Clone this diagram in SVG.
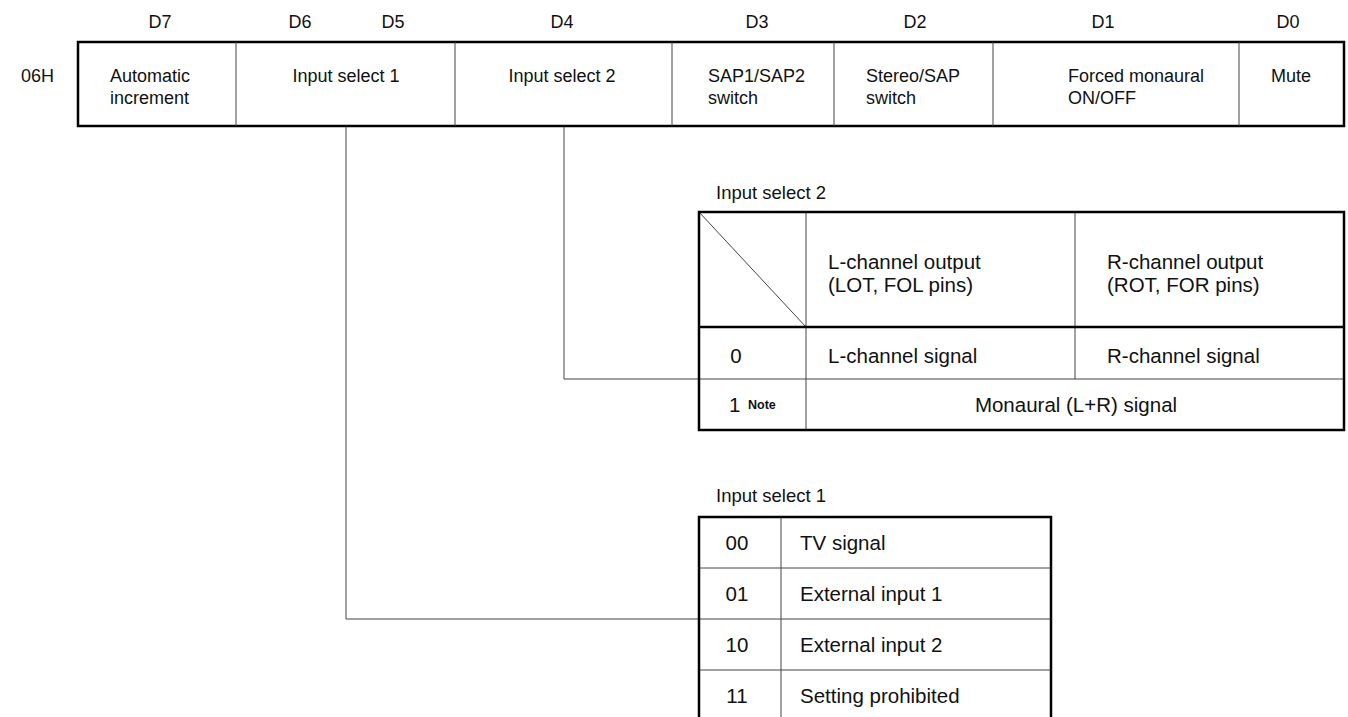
<svg xmlns="http://www.w3.org/2000/svg" width="1348" height="717" viewBox="0 0 1348 717">
<style>
text{font-family:"Liberation Sans",Arial,sans-serif;font-size:18px;fill:#111}
.m{text-anchor:middle}
.lg{font-size:20.5px}
.ttl{font-size:18.5px}
.note{font-size:12.5px;font-weight:bold}
.thick{fill:none;stroke:#000;stroke-width:2.5}
.thin{fill:none;stroke:#444;stroke-width:1}
.conn{fill:none;stroke:#444;stroke-width:1}
</style>
<rect width="1348" height="717" fill="#fff"/>
<g id="bit-labels">
<text class="m" x="160" y="28">D7</text>
<text class="m" x="300" y="28">D6</text>
<text class="m" x="393" y="28">D5</text>
<text class="m" x="562" y="28">D4</text>
<text class="m" x="757" y="28">D3</text>
<text class="m" x="915" y="28">D2</text>
<text class="m" x="1103" y="28">D1</text>
<text class="m" x="1288" y="28">D0</text>
</g>
<g id="register">
<text x="21" y="82">06H</text>
<rect class="thick" x="78" y="42" width="1266" height="84"/>
<path class="thin" d="M236,42V126M455,42V126M672,42V126M834,42V126M993,42V126M1239,42V126"/>
</g>
<g id="cell-d7"><text x="110" y="82">Automatic</text><text x="110" y="104">increment</text></g>
<g id="cell-d6d5"><text class="m" x="346" y="82">Input select 1</text></g>
<g id="cell-d4"><text class="m" x="562" y="82">Input select 2</text></g>
<g id="cell-d3"><text x="708" y="82">SAP1/SAP2</text><text x="708" y="104">switch</text></g>
<g id="cell-d2"><text x="866" y="82">Stereo/SAP</text><text x="866" y="104">switch</text></g>
<g id="cell-d1"><text x="1068" y="82">Forced monaural</text><text x="1068" y="104">ON/OFF</text></g>
<g id="cell-d0"><text class="m" x="1291" y="82">Mute</text></g>
<g id="connectors">
<path class="conn" d="M564,127V379H699"/>
<path class="conn" d="M346,127V619H699"/>
</g>
<g id="table-input-select-2">
<text class="ttl" x="716" y="199">Input select 2</text>
<path class="thin" d="M699,212L806,327M806,212V430M1075,212V379M699,379H1344"/>
<path class="thick" d="M699,327H1344"/>
<rect class="thick" x="699" y="212" width="645" height="218"/>
<text class="lg" x="828" y="269">L-channel output</text>
<text class="lg" x="828" y="292">(LOT, FOL pins)</text>
<text class="lg" x="1107" y="269">R-channel output</text>
<text class="lg" x="1107" y="292">(ROT, FOR pins)</text>
<text class="lg m" x="736" y="363">0</text>
<text class="lg" x="828" y="363">L-channel signal</text>
<text class="lg" x="1107" y="363">R-channel signal</text>
<text class="lg" x="729" y="412">1</text>
<text class="note" x="748" y="409">Note</text>
<text class="lg m" x="1076" y="412">Monaural (L+R) signal</text>
</g>
<g id="table-input-select-1">
<text class="ttl" x="716" y="502">Input select 1</text>
<path class="thin" d="M781,517V730M699,568H1051M699,619H1051M699,670H1051"/>
<rect class="thick" x="699" y="517" width="352" height="213"/>
<text class="lg m" x="737" y="550">00</text><text class="lg" x="800" y="550">TV signal</text>
<text class="lg m" x="737" y="601">01</text><text class="lg" x="800" y="601">External input 1</text>
<text class="lg m" x="737" y="652">10</text><text class="lg" x="800" y="652">External input 2</text>
<text class="lg m" x="737" y="703">11</text><text class="lg" x="800" y="703">Setting prohibited</text>
</g>
</svg>
